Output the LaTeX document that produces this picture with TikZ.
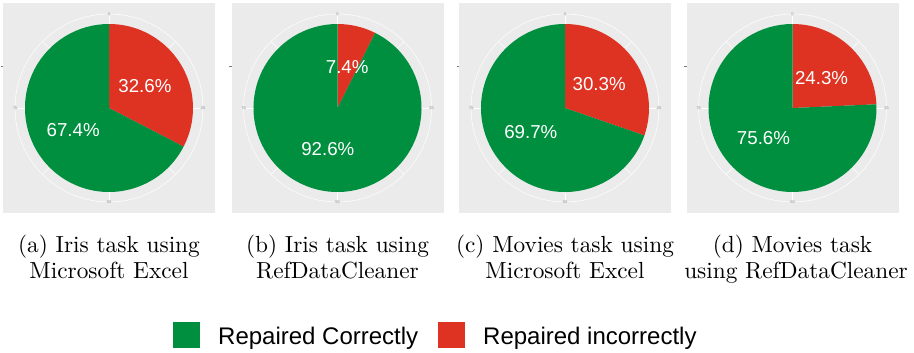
\documentclass[tikz,border=0pt]{standalone}
\usepackage{fontspec}
\newfontfamily\legendfont{Liberation Sans}
\newfontfamily\capfont[Extension=.otf]{lmroman10-regular}

\definecolor{okgreen}{RGB}{0,143,63}
\definecolor{badred}{RGB}{222,51,35}
\definecolor{panelgray}{RGB}{235,235,235}
\definecolor{tickgray}{RGB}{150,150,150}

\tikzset{
  panel/.style={fill=panelgray, draw=none, inner sep=0pt,
                minimum width=212pt, minimum height=210pt},
  grid line/.style={draw=white, line width=0.5pt},
  pct label/.style={text=white, inner sep=0pt,
                    font=\legendfont\fontsize{18.7}{20}\selectfont},
  tick label/.style={text=tickgray, fill=panelgray, inner sep=0.6pt,
                     font=\legendfont\fontsize{4}{4}\selectfont},
  axis tick/.style={draw=tickgray!80!black, line width=0.5pt},
  caption/.style={anchor=base, inner sep=0pt,
                  font=\capfont\fontsize{23.3}{26}\selectfont},
  key box/.style={draw=none, inner sep=0pt,
                  minimum width=27pt, minimum height=26pt},
  key text/.style={anchor=base west, inner sep=0pt,
                   font=\legendfont\fontsize{24}{26}\selectfont},
}

% #1 name prefix, #2 centre x, #3 red share, #4 green share
\newcommand\pieplot[4]{%
  \begin{scope}[shift={(#2,-108)}]
    \pgfmathsetmacro\redend{90-3.6*#3}
    \pgfmathsetmacro\redmid{(90+\redend)/2}
    \pgfmathsetmacro\greenmid{(\redend-270)/2}
    \node[panel] (#1bg) at (0,0) {};
    \draw[axis tick] (-108.5,42) -- (-106,42);
    \foreach \a in {0,45,...,315}
      \draw[grid line] (0,0) -- (\a:94);
    \draw[grid line] (0,0) circle (94);
    \node[tick label] (#1t0)  at (90:94)  {0};
    \node[tick label] (#1t25) at (0:94)   {25};
    \node[tick label] (#1t50) at (-90:94) {50};
    \node[tick label] (#1t75) at (180:94) {75};
    \fill[badred] (0,0) -- (90:84)
      arc[start angle=90, end angle=\redend, radius=84] -- cycle;
    \fill[okgreen] (0,0) -- (\redend:84)
      arc[start angle=\redend, end angle=-270, radius=84] -- cycle;
    \node[pct label] (#1red)   at (\redmid:42)   {#3\%};
    \node[pct label] (#1green) at (\greenmid:42) {#4\%};
  \end{scope}
}

\begin{document}
\begin{tikzpicture}[x=1pt, y=1pt]
  \useasboundingbox (0,0) rectangle (914,-353);

  % four pie charts
  \pieplot{pa}{109}{32.6}{67.4}
  \pieplot{pb}{337.5}{7.4}{92.6}
  \pieplot{pc}{565}{30.3}{69.7}
  \pieplot{pd}{792.5}{24.3}{75.6}

  % sub-captions
  \node[caption] (capA1) at (109,-252)   {(a) Iris task using};
  \node[caption] (capA2) at (109,-278)   {Microsoft Excel};
  \node[caption] (capB1) at (337.5,-252) {(b) Iris task using};
  \node[caption] (capB2) at (337.5,-278) {RefDataCleaner};
  \node[caption] (capC1) at (565,-252)   {(c) Movies task using};
  \node[caption] (capC2) at (565,-278)   {Microsoft Excel};
  \node[caption] (capD1) at (792.5,-252) {(d) Movies task};
  \node[caption] (capD2) at (796,-278)   {using RefDataCleaner};

  % legend
  \node[key box, fill=okgreen] (keyG) at (186.5,-335) {};
  \node[key text] (keyGt) at (218,-344) {Repaired Correctly};
  \node[key box, fill=badred] (keyR) at (451.5,-335) {};
  \node[key text] (keyRt) at (483,-344) {Repaired incorrectly};
\end{tikzpicture}
\end{document}
